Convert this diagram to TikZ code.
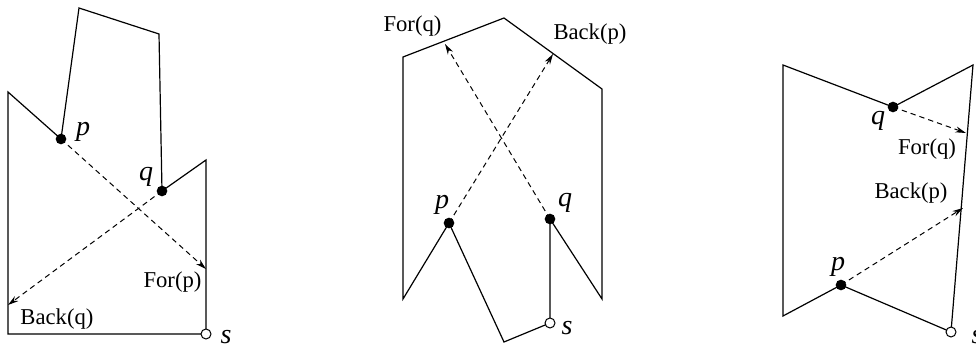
\documentclass[tikz,border=0pt]{standalone}
\usepackage{fontspec}
\setmainfont{Liberation Serif}
\usetikzlibrary{arrows.meta}
\begin{document}
\begin{tikzpicture}[x=0.75pt,y=-0.75pt,
  edge/.style={line width=0.9pt, line join=miter},
  ray/.style={line width=0.75pt, dash pattern=on 4pt off 3pt, -{Stealth[length=8pt,width=4.5pt]}},
  vtx/.style={circle, fill=black, inner sep=0pt, minimum size=8pt},
  src/.style={circle, draw=black, fill=white, line width=0.75pt, inner sep=0pt, minimum size=7.5pt},
  ptlbl/.style={font=\fontsize{21}{21}\selectfont\itshape, inner sep=0pt},
  txt/.style={font=\fontsize{17}{17}\selectfont, inner sep=0pt}]
\useasboundingbox (0,0) rectangle (976,349);

% ---------- panel 1 ----------
\coordinate (a1) at (8,334);
\coordinate (a2) at (8,92);
\coordinate (p1) at (61,139);
\coordinate (a3) at (79,8);
\coordinate (a4) at (159,34);
\coordinate (q1) at (162,191);
\coordinate (a5) at (206,160);
\coordinate (s1) at (206,334);
\draw[edge] (s1) -- (a1) -- (a2) -- (p1) -- (a3) -- (a4) -- (q1) -- (a5) -- (s1);
\coordinate (fp1) at (206,269);
\coordinate (bq1) at (8,305);
\draw[ray] (p1) -- (fp1);
\draw[ray] (q1) -- (bq1);
\node[vtx] (P1) at (p1) {};
\node[vtx] (Q1) at (q1) {};
\node[src] (S1) at (s1) {};
\node[ptlbl] (lp1) at (83,132) {p};
\node[ptlbl] (lq1) at (146,177) {q};
\node[ptlbl] (ls1) at (226,337) {s};
\node[txt] (lfp1) at (172.5,282) {For(p)};
\node[txt] (lbq1) at (57,319) {Back(q)};

% ---------- panel 2 ----------
\coordinate (b1) at (403,57);
\coordinate (b2) at (504,18);
\coordinate (b3) at (602,89);
\coordinate (b4) at (602,299);
\coordinate (q2) at (550,219);
\coordinate (s2) at (550,323);
\coordinate (b5) at (504,342);
\coordinate (p2) at (449,223);
\coordinate (b6) at (403,299);
\draw[edge] (b1) -- (b2) -- (b3) -- (b4) -- (q2) -- (s2) -- (b5) -- (p2) -- (b6) -- cycle;
\coordinate (bp2) at (553,54);
\coordinate (fq2) at (445,44);
\draw[ray] (p2) -- (bp2);
\draw[ray] (q2) -- (fq2);
\node[vtx] (P2) at (p2) {};
\node[vtx] (Q2) at (q2) {};
\node[src] (S2) at (s2) {};
\node[ptlbl] (lp2) at (442,205) {p};
\node[ptlbl] (lq2) at (565,203) {q};
\node[ptlbl] (ls2) at (567,328) {s};
\node[txt] (lfq2) at (412.5,26) {For(q)};
\node[txt] (lbp2) at (590,34) {Back(p)};

% ---------- panel 3 ----------
\coordinate (c1) at (783,65);
\coordinate (q3) at (893,107);
\coordinate (c2) at (973,65);
\coordinate (s3) at (951,332);
\coordinate (p3) at (841,285);
\coordinate (c3) at (783,316);
\draw[edge] (c1) -- (q3) -- (c2) -- (s3) -- (p3) -- (c3) -- cycle;
\coordinate (fq3) at (966,133);
\coordinate (bp3) at (963,208);
\draw[ray] (q3) -- (fq3);
\draw[ray] (p3) -- (bp3);
\node[vtx] (P3) at (p3) {};
\node[vtx] (Q3) at (q3) {};
\node[src] (S3) at (s3) {};
\node[ptlbl] (lp3) at (838,267) {p};
\node[ptlbl] (lq3) at (878,121) {q};
\node[ptlbl] (ls3) at (977,337) {s};
\node[txt] (lfq3) at (927,149) {For(q)};
\node[txt] (lbp3) at (911,193) {Back(p)};
\end{tikzpicture}
\end{document}
